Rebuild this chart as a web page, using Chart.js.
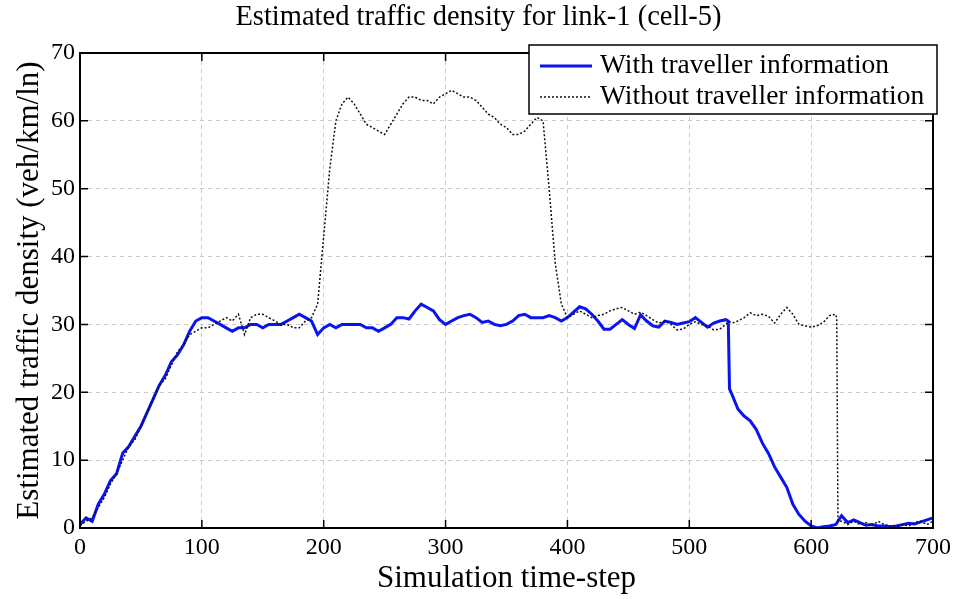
<!DOCTYPE html>
<html>
<head>
<meta charset="utf-8">
<script src="https://cdn.jsdelivr.net/npm/chart.js@4/dist/chart.umd.min.js"></script>
<style>
  html, body { margin: 0; padding: 0; background: #fff; }
  #wrap { width: 957px; height: 599px; }
</style>
</head>
<body>
<div id="wrap"><canvas id="density-chart" width="957" height="599"></canvas></div>
<script>
// time steps (x values)
const timeSteps = [
  0, 5, 10, 15, 20, 25, 30, 35, 40, 45, 50, 55, 60, 65, 70, 75, 80, 85, 90, 95,
  100, 105, 110, 115, 120, 125, 130, 135, 140, 145, 150, 155, 160, 165, 170, 175, 180, 185, 190, 195,
  200, 205, 210, 215, 220, 225, 230, 235, 240, 245, 250, 255, 260, 265, 270, 275, 280, 285, 290, 295,
  300, 305, 310, 315, 320, 325, 330, 335, 340, 345, 350, 355, 360, 365, 370, 375, 380, 385, 390, 395,
  400, 405, 410, 415, 420, 425, 430, 435, 440, 445, 450, 455, 460, 465, 470, 475, 480, 485, 490, 495,
  500, 505, 510, 515, 520, 525, 530, 532, 533, 535, 540, 545, 550, 555, 560, 565, 570, 575, 580, 585, 590, 595,
  600, 605, 610, 615, 620, 621, 622, 625, 630, 635, 640, 645, 650, 655, 660, 665, 670, 675, 680, 685, 690, 695, 700
];

// density with traveller information (blue)
const withInfo = [
  0.5, 1.5, 1, 3.5, 5, 7, 8, 11, 12, 13.5, 15, 17, 19, 21, 22.5, 24.5, 25.5, 27, 29, 30.5,
  31, 31, 30.5, 30, 29.5, 29, 29.5, 29.5, 30, 30, 29.5, 30, 30, 30, 30.5, 31, 31.5, 31, 30.5, 28.5,
  29.5, 30, 29.5, 30, 30, 30, 30, 29.5, 29.5, 29, 29.5, 30, 31, 31, 30.8, 32, 33, 32.5, 32, 30.7,
  30, 30.5, 31, 31.3, 31.5, 31, 30.3, 30.5, 30, 29.8, 30, 30.5, 31.3, 31.5, 31, 31, 31, 31.3, 31, 30.5,
  31, 31.8, 32.6, 32.3, 31.5, 30.5, 29.3, 29.3, 30, 30.7, 30, 29.4, 31.4, 30.5, 29.8, 29.6, 30.5, 30.3, 30, 30.2,
  30.4, 31, 30.3, 29.6, 30.2, 30.5, 30.7, 30.5, 20.5, 19.7, 17.5, 16.5, 15.8, 14.5, 12.5, 11, 9, 7.5, 6, 3.5, 2, 1,
  0.3, 0, 0.2, 0.3, 0.5, 0.7, 1, 1.8, 0.8, 1.2, 0.8, 0.4, 0.5, 0.3, 0.3, 0.2, 0.3, 0.5, 0.7, 0.6, 0.9, 1.2, 1.5
];

// density without traveller information (black dotted)
const withoutInfo = [
  0.3, 1, 1.5, 3, 4.5, 6.5, 8, 10, 12, 13, 15, 17, 19, 21, 22, 24, 26, 27, 28.5, 29,
  29.5, 29.5, 30, 30.5, 31, 30.5, 31.5, 28.5, 31, 31.5, 31.5, 31, 30.5, 30, 30, 29.5, 29.5, 30.5, 31, 33,
  43, 53, 60, 62.5, 63.5, 62.5, 61, 59.5, 59, 58.5, 58, 59.5, 61, 62.5, 63.5, 63.5, 63, 63, 62.5, 63.5,
  64, 64.5, 64, 63.5, 63.5, 63, 62, 61, 60.5, 59.5, 59, 58, 58, 58.5, 59.5, 60.5, 60, 50, 39, 33,
  31, 31.5, 32, 31.5, 31, 31.3, 31.5, 32, 32.3, 32.5, 32, 31.5, 31.8, 31.3, 30.7, 30.2, 30.5, 30, 29.2, 29.3,
  30, 30.4, 30, 29.8, 29.2, 29.3, 30, 30.4, 30.4, 30.2, 30.5, 31, 31.7, 31.3, 31.5, 31.2, 30.2, 31.5, 32.5, 31.5, 30, 29.8,
  29.6, 29.8, 30.3, 31.3, 31.5, 31, 1, 1, 0.5, 1, 0.5, 0.8, 0.3, 1, 0.5, 0.3, 0.2, 0.5, 0.3, 0.8, 1, 0.5, 1
];

const xTicks = [0, 100, 200, 300, 400, 500, 600, 700];
const yTicks = [0, 10, 20, 30, 40, 50, 60, 70];
const seriesLabels = ["With traveller information", "Without traveller information"];
const chartTitle = "Estimated traffic density for link-1 (cell-5)";

const serif = "'Liberation Serif', 'Times New Roman', serif";

function toPoints(values) {
  return timeSteps.map((t, i) => ({ x: t, y: values[i] }));
}

// title, box, inward ticks and legend drawn on top
const framePlugin = {
  id: "frame",
  afterDraw(chart) {
    const { ctx, chartArea: a, scales } = chart;
    ctx.save();

    // title, centred on the whole figure
    ctx.fillStyle = "#000";
    ctx.font = "28.5px " + serif;
    ctx.textAlign = "center";
    ctx.textBaseline = "middle";
    ctx.fillText(chartTitle, chart.width / 2, 18);

    ctx.strokeStyle = "#000";
    ctx.lineWidth = 1.5;
    ctx.beginPath();
    xTicks.forEach((v) => {
      const px = scales.x.getPixelForValue(v);
      ctx.moveTo(px, a.bottom); ctx.lineTo(px, a.bottom - 8);
      ctx.moveTo(px, a.top); ctx.lineTo(px, a.top + 8);
    });
    yTicks.forEach((v) => {
      const py = scales.y.getPixelForValue(v);
      ctx.moveTo(a.left, py); ctx.lineTo(a.left + 8, py);
      ctx.moveTo(a.right, py); ctx.lineTo(a.right - 8, py);
    });
    ctx.stroke();
    ctx.lineWidth = 2;
    ctx.strokeRect(a.left, a.top, a.right - a.left, a.bottom - a.top);

    // legend
    const lx = 529, ly = 45, lw = 408, lh = 69;
    ctx.fillStyle = "#fff";
    ctx.fillRect(lx, ly, lw, lh);
    ctx.lineWidth = 1.5;
    ctx.strokeRect(lx, ly, lw, lh);
    const ds = chart.data.datasets;
    const rows = [66, 97];
    rows.forEach((ry, i) => {
      ctx.beginPath();
      ctx.strokeStyle = ds[i].borderColor;
      ctx.lineWidth = ds[i].borderWidth;
      ctx.setLineDash(ds[i].borderDash || []);
      ctx.moveTo(540, ry); ctx.lineTo(592, ry);
      ctx.stroke();
      ctx.setLineDash([]);
      ctx.fillStyle = "#000";
      ctx.font = "27.5px " + serif;
      ctx.textBaseline = "middle";
      ctx.textAlign = "left";
      ctx.fillText(seriesLabels[i], 600, ry);
    });
    ctx.restore();
  },
};

const ctx = document.getElementById("density-chart").getContext("2d");
const densityChart = new Chart(ctx, {
  type: "line",
  data: {
    datasets: [
      {
        label: seriesLabels[0],
        data: toPoints(withInfo),
        borderColor: "#0a14ee",
        borderWidth: 3,
        pointRadius: 0,
        tension: 0,
        order: 1,
      },
      {
        label: seriesLabels[1],
        data: toPoints(withoutInfo),
        borderColor: "#111",
        borderWidth: 1.5,
        borderDash: [2, 2],
        pointRadius: 0,
        tension: 0,
        order: 0,
      },
    ],
  },
  options: {
    responsive: false,
    animation: false,
    layout: { padding: { left: 0, right: 24, top: 53, bottom: 0 } },
    plugins: {
      legend: { display: false },
      tooltip: { enabled: false },
      title: { display: false },
    },
    scales: {
      x: {
        type: "linear",
        min: 0,
        max: 700,
        afterFit: (s) => { s.height = 71; },
        afterBuildTicks: (s) => { s.ticks = xTicks.map((v) => ({ value: v })); },
        ticks: {
          color: "#000",
          font: { family: serif, size: 24 },
          padding: 5,
          maxRotation: 0,
        },
        grid: { color: "#c8c8c8", lineWidth: 1, drawTicks: false },
        border: { display: false, dash: [4, 4] },
        title: {
          display: true,
          text: "Simulation time-step",
          color: "#000",
          font: { family: serif, size: 31 },
          padding: { top: 0, bottom: 2 },
        },
      },
      y: {
        type: "linear",
        min: 0,
        max: 70,
        afterFit: (s) => { s.width = 80; },
        afterBuildTicks: (s) => { s.ticks = yTicks.map((v) => ({ value: v })); },
        ticks: {
          color: "#000",
          font: { family: serif, size: 24 },
          padding: 5,
        },
        grid: { color: "#c8c8c8", lineWidth: 1, drawTicks: false },
        border: { display: false, dash: [4, 4] },
        title: {
          display: true,
          text: "Estimated traffic density (veh/km/ln)",
          color: "#000",
          font: { family: serif, size: 31 },
          padding: { top: 11, bottom: 0 },
        },
      },
    },
  },
  plugins: [framePlugin],
});
</script>
</body>
</html>
